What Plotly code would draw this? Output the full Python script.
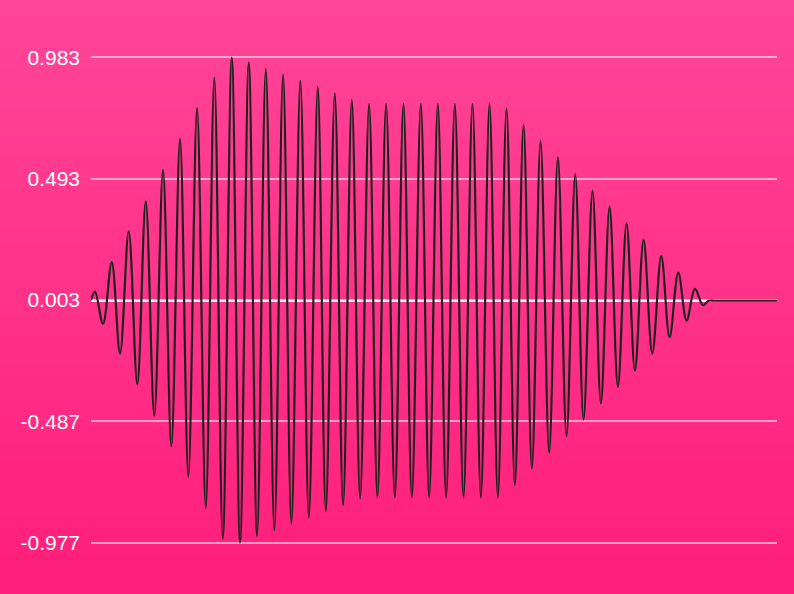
import plotly.graph_objects as go

# Time (s) of each extremum / anchor of the waveform
t = [0.0, 0.0058, 0.0175, 0.0302, 0.0423, 0.0550, 0.0675, 0.0798, 0.0923, 0.1050,
     0.1171, 0.1298, 0.1419, 0.1546, 0.1673, 0.1798, 0.1921, 0.2052, 0.2173, 0.2300,
     0.2421, 0.2548, 0.2673, 0.2800, 0.2921, 0.3052, 0.3175, 0.3306, 0.3423, 0.3554,
     0.3675, 0.3802, 0.3923, 0.4054, 0.4175, 0.4302, 0.4429, 0.4555, 0.4677, 0.4808,
     0.4929, 0.5056, 0.5177, 0.5304, 0.5430, 0.5561, 0.5683, 0.5809, 0.5931, 0.6057,
     0.6179, 0.6305, 0.6427, 0.6553, 0.6679, 0.6806, 0.6932, 0.7059, 0.7180, 0.7311,
     0.7433, 0.7559, 0.7681, 0.7807, 0.7929, 0.8055, 0.8182, 0.8313, 0.8434, 0.8561,
     0.8682, 0.8804, 0.8921, 0.9003, 0.9080, 0.9300, 0.9600, 0.9900, 1.0]

# Amplitude at each of those points
amp = [0.003, 0.036, -0.093, 0.156, -0.214, 0.280, -0.338, 0.402, -0.464, 0.529,
       -0.588, 0.654, -0.711, 0.778, -0.837, 0.902, -0.961, 0.983, -0.977, 0.962,
       -0.950, 0.937, -0.927, 0.914, -0.901, 0.889, -0.876, 0.863, -0.851, 0.838,
       -0.826, 0.812, -0.800, 0.796, -0.795, 0.796, -0.795, 0.796, -0.795, 0.796,
       -0.795, 0.796, -0.795, 0.796, -0.795, 0.796, -0.795, 0.796, -0.795, 0.776,
       -0.745, 0.711, -0.679, 0.645, -0.614, 0.579, -0.547, 0.511, -0.480, 0.444,
       -0.415, 0.380, -0.348, 0.313, -0.282, 0.246, -0.213, 0.180, -0.147, 0.114,
       -0.080, 0.048, -0.018, 0.0, 0.0, 0.0, 0.0, 0.0, 0.0]

tick_vals = [0.983, 0.493, 0.003, -0.487, -0.977]
tick_text = ["0.983", "0.493", "0.003", "-0.487", "-0.977"]

fig = go.Figure()
fig.add_trace(go.Scatter(
    x=t, y=amp, mode="lines",
    line=dict(color="#202020", width=2.2, shape="spline", smoothing=1.0),
    hoverinfo="skip", showlegend=False,
))

# vertical gradient background
top = (255, 70, 152)
bot = (255, 30, 122)
n = 120
shapes = []
y_top, y_bot = 1.12, -0.11
for i in range(n):
    f = (i + 0.5) / n
    c = tuple(round(top[k] + (bot[k] - top[k]) * f) for k in range(3))
    y1 = y_top + (y_bot - y_top) * i / n
    y0 = y_top + (y_bot - y_top) * (i + 1) / n
    shapes.append(dict(type="rect", xref="paper", yref="paper",
                       x0=-0.2, x1=1.1, y0=y0 - 0.002, y1=y1 + 0.002,
                       fillcolor="rgb(%d,%d,%d)" % c, line=dict(width=0),
                       layer="below"))

fig.update_layout(
    width=794, height=594,
    margin=dict(l=91, r=17, t=56, b=50),
    paper_bgcolor="rgb(255,50,137)",
    plot_bgcolor="rgba(0,0,0,0)",
    shapes=shapes,
    xaxis=dict(range=[0, 1.0], visible=False, showgrid=False, zeroline=False),
    yaxis=dict(range=[-0.983, 0.989], tickvals=tick_vals, ticktext=tick_text,
               showgrid=True, gridcolor="rgba(255,255,255,0.55)", gridwidth=2,
               zeroline=True, zerolinecolor="rgba(255,255,255,0.9)", zerolinewidth=1.5,
               showline=False, ticks="", ticklabelstandoff=10,
               tickfont=dict(family="Liberation Sans, Arial, sans-serif", size=21, color="white")),
)

fig.write_html("out.html")
